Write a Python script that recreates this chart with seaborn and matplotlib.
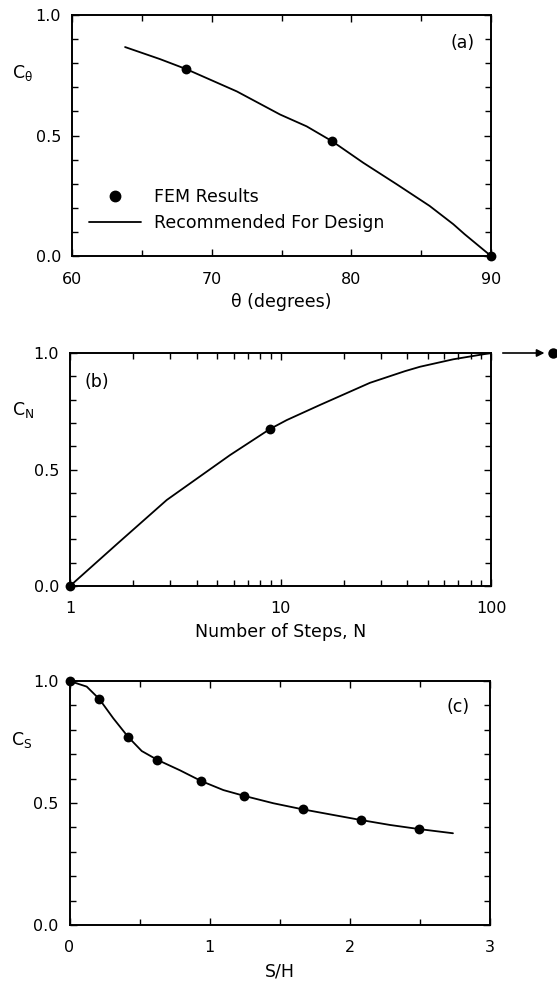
import matplotlib
matplotlib.use("Agg")
import matplotlib.pyplot as plt
import matplotlib.ticker as mticker
import matplotlib.transforms as mtrans
from matplotlib.lines import Line2D
import seaborn as sns

# ---------------- data ----------------
# (a) C_theta vs theta
theta_fem = [68.16, 78.63, 90.0]
ctheta_fem = [0.776, 0.476, 0.0]
theta_line = [63.8, 66.3, 68.16, 71.8, 74.9, 76.8, 78.63, 80.85, 83.24, 85.6, 87.3, 88.1, 90.0]
ctheta_line = [0.867, 0.817, 0.776, 0.683, 0.587, 0.538, 0.476, 0.387, 0.298, 0.208, 0.132, 0.091, 0.0]

# (b) C_N vs number of steps N
n_fem = [1.0, 8.92]
cn_fem = [0.0, 0.674]
n_line = [1.0, 1.70, 2.88, 5.76, 8.92, 10.7, 15.4, 26.6, 39.0, 46.0, 66.2, 100.0]
cn_line = [0.0, 0.186, 0.369, 0.562, 0.674, 0.712, 0.777, 0.872, 0.922, 0.941, 0.973, 1.0]
cn_infinite = 1.0

# (c) C_S vs S/H
sh_fem = [0.0, 0.213, 0.42, 0.627, 0.941, 1.249, 1.666, 2.084, 2.499]
cs_fem = [1.0, 0.926, 0.770, 0.677, 0.590, 0.529, 0.474, 0.430, 0.393]
sh_line = [0.0, 0.123, 0.213, 0.313, 0.42, 0.516, 0.627, 0.789, 0.941, 1.099,
           1.249, 1.456, 1.666, 1.884, 2.084, 2.289, 2.499, 2.739]
cs_line = [1.0, 0.977, 0.926, 0.847, 0.770, 0.713, 0.677, 0.634, 0.590, 0.553,
           0.529, 0.499, 0.474, 0.451, 0.430, 0.410, 0.393, 0.376]

# ---------------- style ----------------
sns.set_style("ticks")
plt.rcParams["font.family"] = ["DejaVu Sans"]
plt.rcParams["mathtext.default"] = "regular"
plt.rcParams["text.color"] = "black"
plt.rcParams["axes.labelcolor"] = "black"
plt.rcParams["xtick.color"] = "black"
plt.rcParams["ytick.color"] = "black"
FS = 12.5        # labels / legend
TFS = 11.5       # tick labels

W, H = 557, 982
fig = plt.figure(figsize=(W / 100, H / 100), dpi=100)
fig.patch.set_facecolor("white")


def px_axes(l, t, r, b):
    return fig.add_axes([l / W, (H - b) / H, (r - l) / W, (b - t) / H])


def style(ax, xpad, ypad):
    for s in ax.spines.values():
        s.set_linewidth(1.4)
        s.set_color("black")
    ax.tick_params(which="both", direction="in", top=True, right=True,
                   labelsize=TFS, colors="black", labelcolor="black", width=1.0)
    ax.tick_params(which="major", length=5)
    ax.tick_params(which="minor", length=4)
    ax.tick_params(axis="x", which="both", pad=xpad)
    ax.tick_params(axis="y", which="both", pad=ypad)
    ax.set_facecolor("white")


LW = 1.3
MS = 50

# ---------- (a) ----------
axa = px_axes(72, 15, 491, 256)
sns.lineplot(x=theta_line, y=ctheta_line, ax=axa, color="black", lw=LW,
             estimator=None, sort=False)
sns.scatterplot(x=theta_fem, y=ctheta_fem, ax=axa, color="black", s=MS,
                linewidth=0, zorder=5, clip_on=False)
axa.set_xlim(60, 90)
axa.set_ylim(0, 1.0)
axa.xaxis.set_major_locator(mticker.MultipleLocator(10))
axa.xaxis.set_minor_locator(mticker.MultipleLocator(5))
axa.yaxis.set_major_locator(mticker.MultipleLocator(0.5))
axa.yaxis.set_minor_locator(mticker.MultipleLocator(0.1))
axa.yaxis.set_major_formatter(mticker.FormatStrFormatter("%.1f"))
style(axa, 11.5, 8)
axa.set_xlabel("θ (degrees)", fontsize=FS, labelpad=4.5)
axa.set_ylabel("")
axa.text(-0.119, 0.76, r"C$_{\theta}$", transform=axa.transAxes,
         fontsize=FS, ha="center", va="center")
axa.text(0.931, 0.884, "(a)", transform=axa.transAxes, fontsize=FS,
         ha="center", va="center")
handles = [Line2D([], [], marker="o", color="black", ls="none", markersize=7.5),
           Line2D([], [], color="black", lw=LW)]
axa.legend(handles, ["FEM Results", "Recommended For Design"], frameon=False,
           loc="lower left", bbox_to_anchor=(0.040, 0.099), fontsize=FS,
           borderpad=0, borderaxespad=0, labelcolor="black",
           handlelength=3.03, handletextpad=0.71, labelspacing=0.45)

# ---------- (b) ----------
axb = px_axes(70, 353, 491, 586)
sns.lineplot(x=n_line, y=cn_line, ax=axb, color="black", lw=LW,
             estimator=None, sort=False)
sns.scatterplot(x=n_fem, y=cn_fem, ax=axb, color="black", s=MS,
                linewidth=0, zorder=5, clip_on=False)
axb.set_xscale("log")
axb.set_xlim(1, 100)
axb.set_ylim(0, 1.0)
axb.xaxis.set_major_locator(mticker.LogLocator(base=10))
axb.xaxis.set_minor_locator(mticker.LogLocator(base=10, subs=range(2, 10)))
axb.xaxis.set_major_formatter(mticker.FuncFormatter(lambda v, p: f"{v:g}"))
axb.xaxis.set_minor_formatter(mticker.NullFormatter())
axb.yaxis.set_major_locator(mticker.MultipleLocator(0.5))
axb.yaxis.set_minor_locator(mticker.MultipleLocator(0.1))
axb.yaxis.set_major_formatter(mticker.FormatStrFormatter("%.1f"))
style(axb, 11, 8)
axb.set_xlabel("Number of Steps, N", fontsize=FS, labelpad=4.5)
axb.set_ylabel("")
axb.text(-0.112, 0.755, r"C$_{N}$", transform=axb.transAxes,
         fontsize=FS, ha="center", va="center")
axb.text(0.063, 0.876, "(b)", transform=axb.transAxes, fontsize=FS,
         ha="center", va="center")
# N -> infinity point outside the axes
blend = mtrans.blended_transform_factory(axb.transAxes, axb.transData)
axb.annotate("", xy=(1.127, cn_infinite), xytext=(1.028, cn_infinite),
             xycoords=blend, textcoords=blend,
             arrowprops=dict(arrowstyle="-|>", color="black", lw=1.2,
                             mutation_scale=11, shrinkA=0, shrinkB=0),
             annotation_clip=False)
axb.plot([1.147], [cn_infinite], marker="o", color="black", markersize=7.5,
         markeredgewidth=0, transform=blend, clip_on=False)

# ---------- (c) ----------
axc = px_axes(69.5, 681, 489.5, 925)
sns.lineplot(x=sh_line, y=cs_line, ax=axc, color="black", lw=LW,
             estimator=None, sort=False)
sns.scatterplot(x=sh_fem, y=cs_fem, ax=axc, color="black", s=MS,
                linewidth=0, zorder=5, clip_on=False)
axc.set_xlim(0, 3)
axc.set_ylim(0, 1.0)
axc.xaxis.set_major_locator(mticker.MultipleLocator(1))
axc.xaxis.set_minor_locator(mticker.MultipleLocator(0.5))
axc.yaxis.set_major_locator(mticker.MultipleLocator(0.5))
axc.yaxis.set_minor_locator(mticker.MultipleLocator(0.1))
axc.yaxis.set_major_formatter(mticker.FormatStrFormatter("%.1f"))
style(axc, 10.5, 8)
axc.set_xlabel("S/H", fontsize=FS, labelpad=6)
axc.set_ylabel("")
axc.text(-0.114, 0.758, r"C$_{S}$", transform=axc.transAxes,
         fontsize=FS, ha="center", va="center")
axc.text(0.925, 0.893, "(c)", transform=axc.transAxes, fontsize=FS,
         ha="center", va="center")

fig.savefig("out.png", dpi=100, facecolor="white")
